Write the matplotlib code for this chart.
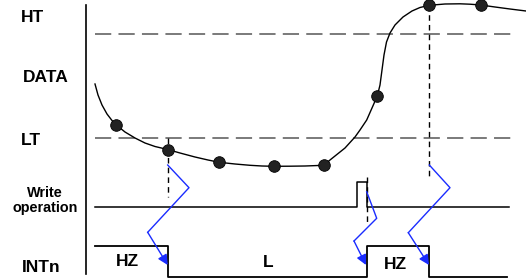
import numpy as np
import matplotlib
matplotlib.use('Agg')
import matplotlib.pyplot as plt

# Schematic timing chart, drawn in picture coordinates (px, y downwards)
W, H = 526, 278

# threshold levels
ht_y = 34
lt_y = 137.5

# DATA curve
curve_x = [95, 98, 102, 107, 112, 115.7, 125, 135, 145, 155, 167.7, 180, 195, 208, 219.3,
           235, 250, 262, 273.7, 290, 305, 323.7, 330, 345, 355, 360, 366.7, 372, 377.3,
           380, 382, 384, 386.5, 390, 395, 403, 412, 420, 429.3, 445, 460, 470, 480.7,
           495, 510, 526]
curve_y = [84, 95, 105, 114, 120.5, 124.5, 132, 138, 143, 146.5, 149.5, 153, 157, 160, 162.3,
           164, 165.3, 166, 166.3, 166.2, 166, 165.3, 160, 148, 137, 130, 120, 108, 96,
           85, 70, 55, 42, 33, 25, 17, 11, 7.5, 5.3, 4, 3.8, 4.2, 5,
           7, 9, 11]

# sample points
dot_x = [115.7, 167.7, 219.3, 273.7, 323.7, 377.3, 429.3, 480.7]
dot_y = [124.5, 149.5, 162.3, 166.3, 165.3, 96, 5.3, 5]

# write operation line and pulse
write_y = 206.7
write_x = [95, 356.7, 356.7, 366.7, 366.7, 509]
write_lvl = [write_y, write_y, 182.3, 182.3, write_y, write_y]

# INTn signal
int_x = [95, 168, 168, 367, 367, 429.3, 429.3, 507]
int_lvl = [245.7, 245.7, 276.7, 276.7, 245.7, 245.7, 276.7, 276.7]
int_labels = ['HZ', 'L', 'HZ']
int_label_x = [127.3, 268, 395.8]
int_label_y = [266, 267.3, 269.3]

# dashed vertical markers (x, y top, y bottom)
vmark_x = [167.7, 366.7, 429.3]
vmark_top = [137.5, 176.7, 5.3]
vmark_bot = [196.7, 221.7, 176]

# blue zigzag arrows
arrows = [
    ([167.7, 189, 147.7, 167.7], [165, 187.7, 232.3, 265]),
    ([366.7, 376.7, 354, 366], [191.7, 218.3, 241, 265]),
    ([429.3, 450, 408.3, 429], [165, 187.7, 232.7, 265]),
]

# left labels (baseline positions)
side_labels = ['HT', 'DATA', 'LT', 'INTn']
side_x = [21, 22.5, 21, 22]
side_y = [21.7, 81.7, 145, 271.7]
write_labels = ['Write', 'operation']
write_lab_y = [196.7, 212]

plt.rcParams['font.family'] = ['Liberation Sans', 'DejaVu Sans']

fig = plt.figure(figsize=(W / 100, H / 100), dpi=100)
ax = fig.add_axes([0, 0, 1, 1])
ax.set_xlim(0, W)
ax.set_ylim(H, 0)
ax.axis('off')

# vertical axis
ax.plot([86, 86], [5, 274], color='black', lw=1.2)

# thresholds
ax.plot([95, 512], [ht_y, ht_y], color='#707070', lw=1.3, dashes=(9, 4))
ax.plot([95, 514], [lt_y, lt_y], color='#707070', lw=1.3, dashes=(9, 4))

# data
ax.plot(curve_x, curve_y, color='black', lw=1)
ax.scatter(dot_x, dot_y, s=70, color='#222222', edgecolor='black', linewidth=0.6, zorder=5)

# dashed vertical lines
for x, t, b in zip(vmark_x, vmark_top, vmark_bot):
    ax.plot([x, x], [t, b], color='black', lw=1, dashes=(4, 3))

# write operation
ax.plot(write_x, write_lvl, color='black', lw=1.1)

# INTn
ax.plot(int_x, int_lvl, color='black', lw=1.3)
for lab, x, y in zip(int_labels, int_label_x, int_label_y):
    ax.text(x, y, lab, ha='center', va='baseline', fontsize=12.5, fontweight='bold')

# arrows
for xs, ys in arrows:
    ax.plot(xs[:-1], ys[:-1], color='#1a2cff', lw=1)
    ax.annotate('', xy=(xs[-1], ys[-1]), xytext=(xs[-2], ys[-2]),
                arrowprops=dict(arrowstyle='-|>', color='#1a2cff', lw=1,
                                mutation_scale=15, shrinkA=0, shrinkB=0))

for lab, x, y in zip(side_labels, side_x, side_y):
    ax.text(x, y, lab, ha='left', va='baseline', fontsize=12.5, fontweight='bold')
for lab, y in zip(write_labels, write_lab_y):
    ax.text(45, y, lab, ha='center', va='baseline', fontsize=10.4, fontweight='bold')

fig.savefig('out.png', dpi=100)
